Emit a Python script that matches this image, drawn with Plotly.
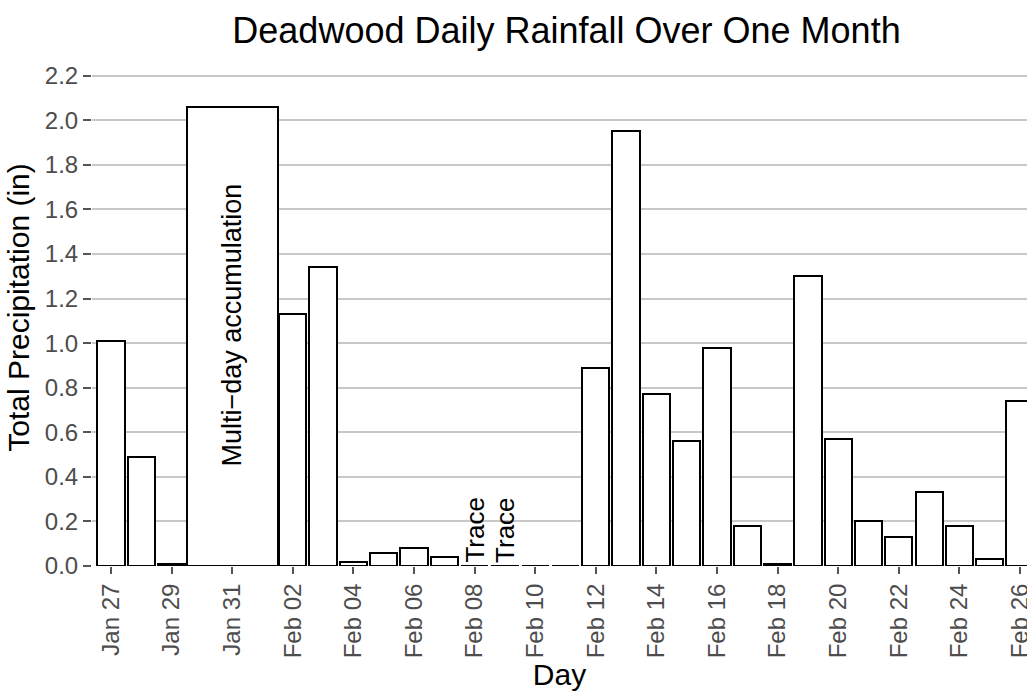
import datetime as dt
import plotly.graph_objects as go

# ---- data ----
day_dates = ["2019-01-27", "2019-01-28", "2019-01-29",
             "2019-02-02", "2019-02-03", "2019-02-04", "2019-02-05", "2019-02-06",
             "2019-02-07", "2019-02-08", "2019-02-09", "2019-02-10", "2019-02-11",
             "2019-02-12", "2019-02-13", "2019-02-14", "2019-02-15", "2019-02-16",
             "2019-02-17", "2019-02-18", "2019-02-19", "2019-02-20", "2019-02-21",
             "2019-02-22", "2019-02-23", "2019-02-24", "2019-02-25", "2019-02-26"]
day_precip = [1.01, 0.49, 0.01,
              1.13, 1.34, 0.02, 0.06, 0.08,
              0.04, 0.00, 0.00, 0.00, 0.00,
              0.89, 1.95, 0.77, 0.56, 0.98,
              0.18, 0.01, 1.30, 0.57, 0.20,
              0.13, 0.33, 0.18, 0.03, 0.74]

accum_start = "2019-01-30"
accum_end = "2019-02-01"
accum_total = 2.06
accum_label = "Multi\u2212day accumulation"

trace_dates = ["2019-02-08", "2019-02-09"]
trace_label = "Trace"

y_ticks = [0.0, 0.2, 0.4, 0.6, 0.8, 1.0, 1.2, 1.4, 1.6, 1.8, 2.0, 2.2]

title_text = "Deadwood Daily Rainfall Over One Month"
x_title = "Day"
y_title = "Total Precipitation (in)"

# ---- derived ----
DAY_MS = 86400000
d0 = dt.datetime.fromisoformat(accum_start)
d1 = dt.datetime.fromisoformat(accum_end)
accum_center = d0 + (d1 - d0) / 2
accum_span_days = (d1 - d0).days + 1

bar_x = day_dates + [accum_center.strftime("%Y-%m-%d %H:%M")]
bar_y = day_precip + [accum_total]
bar_w = [0.9 * DAY_MS] * len(day_dates) + [accum_span_days * DAY_MS]

FONT = "Liberation Sans, Arial, Helvetica, sans-serif"

fig = go.Figure()
fig.add_trace(go.Bar(
    x=bar_x, y=bar_y, width=bar_w,
    marker=dict(color="white", line=dict(color="black", width=2)),
    showlegend=False, hoverinfo="x+y",
))

fig.add_annotation(
    x=accum_center.strftime("%Y-%m-%d %H:%M"), y=1.08, text=accum_label,
    textangle=-90, showarrow=False, xanchor="center", yanchor="middle",
    font=dict(family=FONT, size=27, color="black"),
)
for d in trace_dates:
    fig.add_annotation(
        x=d, y=0, text=trace_label, textangle=-90, showarrow=False,
        xanchor="center", yanchor="bottom", yshift=1,
        font=dict(family=FONT, size=26, color="black"),
    )

fig.update_layout(
    width=1027, height=694,
    margin=dict(l=92, r=0, t=49, b=128),
    paper_bgcolor="white", plot_bgcolor="white",
    font=dict(family=FONT, color="black"),
    title=dict(text=title_text, x=566.5 / 1027, xref="container", xanchor="center",
               y=1 - 30 / 694, yref="container", yanchor="middle",
               font=dict(family=FONT, size=36, color="black")),
    bargap=0,
)
fig.update_xaxes(
    type="date",
    range=["2019-01-26 08:57", "2019-02-26 05:31"],
    tick0="2019-01-27", dtick=2 * DAY_MS, tickformat="%b %d",
    tickangle=-90, ticks="outside", ticklen=7, tickwidth=1.5, tickcolor="#555555",
    tickfont=dict(family=FONT, size=24, color="#4D4D4D"),
    ticklabeloverflow="allow", automargin=False,
    showgrid=False, zeroline=False, showline=False,
    title=dict(text=x_title, font=dict(family=FONT, size=30, color="black"), standoff=2),
)
fig.update_yaxes(
    range=[0, 2.32], tickvals=y_ticks, tickformat=".1f",
    ticks="outside", ticklen=8, tickwidth=1.5, tickcolor="#555555",
    tickfont=dict(family=FONT, size=24, color="#4D4D4D"),
    showgrid=True, gridcolor="#C8C8C8", gridwidth=1.6,
    zeroline=False, showline=False, automargin=False,
    title=dict(text=y_title, font=dict(family=FONT, size=30, color="black"), standoff=6),
)

fig.write_html("out.html", config={"displayModeBar": False},
               post_script="document.body.style.margin='0px';")
